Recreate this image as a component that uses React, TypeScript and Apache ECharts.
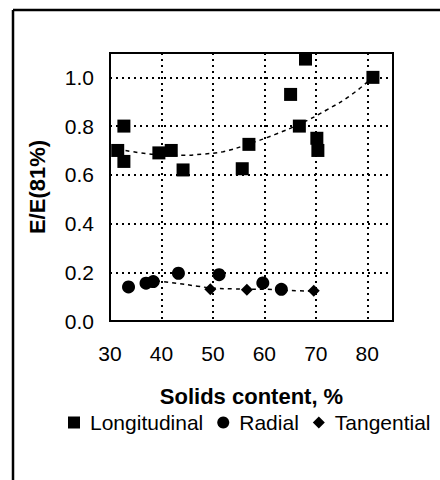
import React, { useEffect, useRef } from "react";
import * as echarts from "echarts";

const longitudinal: [number, number][] = [
  [31.5, 0.7], [32.7, 0.655], [32.7, 0.8], [39.5, 0.69], [41.9, 0.7], [44.2, 0.62],
  [55.7, 0.625], [57.0, 0.725], [65.1, 0.93], [68.0, 1.075], [66.8, 0.8], [70.2, 0.75], [70.4, 0.7], [81.1, 1.0],
];
const radial: [number, number][] = [
  [33.6, 0.14], [37.0, 0.155], [38.4, 0.162], [43.3, 0.196], [51.2, 0.19], [59.7, 0.156], [63.3, 0.13],
];
const tangential: [number, number][] = [
  [49.5, 0.13], [56.6, 0.128], [69.6, 0.124],
];
const longTrend: [number, number][] = [
  [31.5, 0.705], [36, 0.69], [40, 0.682], [44, 0.68], [48, 0.685], [52, 0.695], [57, 0.727],
  [62, 0.765], [67, 0.81], [72, 0.865], [77, 0.93], [81, 1.0],
];
const radialTrend: [number, number][] = [
  [39, 0.165], [43, 0.155], [47, 0.143], [50, 0.135], [54, 0.132], [57, 0.13], [60, 0.13], [64, 0.126], [70, 0.122],
];
const legendNames = ["Longitudinal", "Radial", "Tangential"];

export default function App() {
  const ref = useRef<HTMLDivElement>(null);
  useEffect(() => {
    document.body.style.margin = "0";
    const chart = echarts.init(ref.current!, undefined, { renderer: "svg" });
    const font = "'Liberation Sans', Arial, sans-serif";
    chart.setOption({
      animation: false,
      backgroundColor: "#fff",
      textStyle: { fontFamily: font, color: "#000" },
      grid: { left: 110, right: 47, top: 53, bottom: 159, show: true, borderColor: "#000", borderWidth: 2 },
      xAxis: {
        type: "value", min: 30, max: 85, interval: 10,
        name: "Solids content, %", nameLocation: "middle", nameGap: 64,
        nameTextStyle: { fontSize: 22, fontWeight: "bold", color: "#000", fontFamily: font },
        axisLine: { show: false }, axisTick: { show: false },
        axisLabel: { fontSize: 21, color: "#000", margin: 22, showMaxLabel: false, fontFamily: font },
        splitLine: { show: true, lineStyle: { color: "#000", type: [2, 4], width: 2 } },
      },
      yAxis: {
        type: "value", min: 0, max: 1.1, interval: 0.2,
        name: "E/E(81%)", nameLocation: "middle", nameGap: 62, nameRotate: 90,
        nameTextStyle: { fontSize: 22, fontWeight: "bold", color: "#000", fontFamily: font },
        axisLine: { show: false }, axisTick: { show: false },
        axisLabel: { fontSize: 21, color: "#000", margin: 16, showMaxLabel: false, fontFamily: font,
          formatter: (v: number) => v.toFixed(1) },
        splitLine: { show: true, lineStyle: { color: "#000", type: [2, 4], width: 2 } },
      },
      legend: {
        left: 63, top: 407, itemWidth: 12, itemHeight: 12, itemGap: 14,
        textStyle: { fontSize: 21, color: "#000", fontFamily: font, padding: [0, 0, 0, 5] },
        data: [
          { name: legendNames[0], icon: "rect" },
          { name: legendNames[1], icon: "circle" },
          { name: legendNames[2], icon: "diamond" },
        ],
      },
      graphic: [
        { type: "line", shape: { x1: 13, y1: 10, x2: 440, y2: 10 }, style: { stroke: "#000", lineWidth: 2.5 } },
        { type: "line", shape: { x1: 13, y1: 10, x2: 13, y2: 480 }, style: { stroke: "#000", lineWidth: 2.5 } },
      ],
      series: [
        { name: "trendL", type: "line", data: longTrend, smooth: true, showSymbol: false, symbol: "none",
          lineStyle: { color: "#000", width: 1.5, type: [4, 4] }, z: 1 },
        { name: "trendR", type: "line", data: radialTrend, smooth: true, showSymbol: false, symbol: "none",
          lineStyle: { color: "#000", width: 1.5, type: [4, 4] }, z: 1 },
        { name: legendNames[0], type: "scatter", data: longitudinal, symbol: "rect", symbolSize: 13,
          itemStyle: { color: "#000", opacity: 1 }, z: 3 },
        { name: legendNames[1], type: "scatter", data: radial, symbol: "circle", symbolSize: 13,
          itemStyle: { color: "#000", opacity: 1 }, z: 3 },
        { name: legendNames[2], type: "scatter", data: tangential, symbol: "diamond", symbolSize: 12,
          itemStyle: { color: "#000", opacity: 1 }, z: 3 },
      ],
    });
    return () => chart.dispose();
  }, []);
  return <div ref={ref} style={{ width: 440, height: 480 }} />;
}
